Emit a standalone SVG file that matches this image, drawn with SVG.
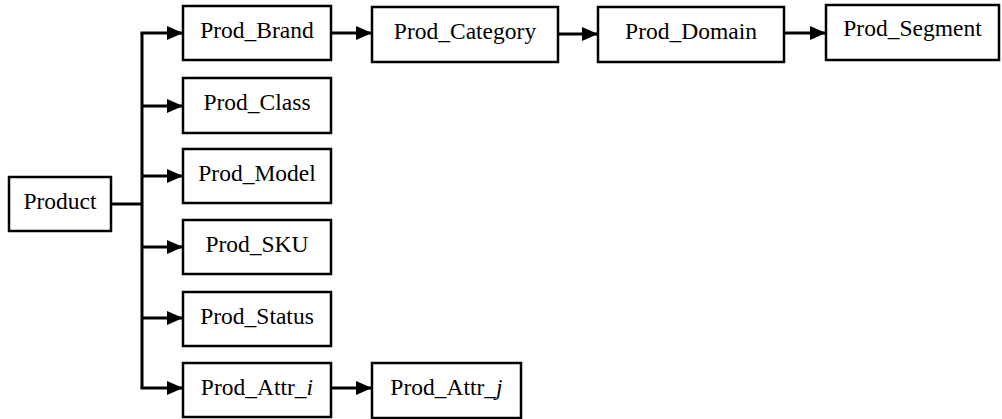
<svg xmlns="http://www.w3.org/2000/svg" width="1002" height="419" viewBox="0 0 1002 419">
  <style>
    .box { fill: #ffffff; stroke: #000000; stroke-width: 2.5; }
    .lbl { font-family: "Liberation Serif", "Times New Roman", serif; font-size: 23.5px; fill: #000000; text-anchor: middle; }
    .wire { fill: none; stroke: #000000; stroke-width: 3; }
    .arrow { fill: none; stroke: #000000; stroke-width: 3; marker-end: url(#head); }
  </style>
  <defs>
    <marker id="head" markerUnits="userSpaceOnUse" markerWidth="17" markerHeight="14" refX="16" refY="7" orient="auto">
      <path d="M0,0 L16,7 L0,14 Z" fill="#000000"/>
    </marker>
  </defs>
  <rect width="1002" height="419" fill="#ffffff"/>

  <g id="connectors">
    <!-- trunk from Product -->
    <path class="wire" d="M111,204 H142"/>
    <path class="wire" d="M142,33 V388"/>
    <!-- branches -->
    <path class="arrow" d="M140.5,33 H183"/>
    <path class="arrow" d="M142,106 H183"/>
    <path class="arrow" d="M142,176 H183"/>
    <path class="arrow" d="M142,247 H183"/>
    <path class="arrow" d="M142,318 H183"/>
    <path class="arrow" d="M140.5,388 H183"/>
    <!-- chains -->
    <path class="arrow" d="M331,33 H372"/>
    <path class="arrow" d="M558,34 H598"/>
    <path class="arrow" d="M784,33 H826"/>
    <path class="arrow" d="M331,388 H372"/>
  </g>

  <g id="product">
    <rect class="box" x="9" y="177" width="102" height="54"/>
    <text class="lbl" x="60" y="208.5">Product</text>
  </g>
  <g id="prod-brand">
    <rect class="box" x="183" y="6" width="148" height="54"/>
    <text class="lbl" x="257" y="37.5">Prod_Brand</text>
  </g>
  <g id="prod-class">
    <rect class="box" x="183" y="78" width="148" height="55"/>
    <text class="lbl" x="257" y="110">Prod_Class</text>
  </g>
  <g id="prod-model">
    <rect class="box" x="183" y="149" width="148" height="54"/>
    <text class="lbl" x="257" y="180.5">Prod_Model</text>
  </g>
  <g id="prod-sku">
    <rect class="box" x="183" y="220" width="148" height="54"/>
    <text class="lbl" x="257" y="251.5">Prod_SKU</text>
  </g>
  <g id="prod-status">
    <rect class="box" x="183" y="292" width="148" height="54"/>
    <text class="lbl" x="257" y="323.5">Prod_Status</text>
  </g>
  <g id="prod-attr-i">
    <rect class="box" x="183" y="363" width="148" height="54"/>
    <text class="lbl" x="257" y="394.5">Prod_Attr_<tspan font-style="italic">i</tspan></text>
  </g>
  <g id="prod-category">
    <rect class="box" x="372" y="7" width="186" height="55"/>
    <text class="lbl" x="465" y="39">Prod_Category</text>
  </g>
  <g id="prod-domain">
    <rect class="box" x="598" y="7" width="186" height="55"/>
    <text class="lbl" x="691" y="39">Prod_Domain</text>
  </g>
  <g id="prod-segment">
    <rect class="box" x="826" y="5" width="173" height="55"/>
    <text class="lbl" x="912.5" y="36">Prod_Segment</text>
  </g>
  <g id="prod-attr-j">
    <rect class="box" x="372" y="363" width="149" height="55"/>
    <text class="lbl" x="446.5" y="395">Prod_Attr_<tspan font-style="italic">j</tspan></text>
  </g>
</svg>
